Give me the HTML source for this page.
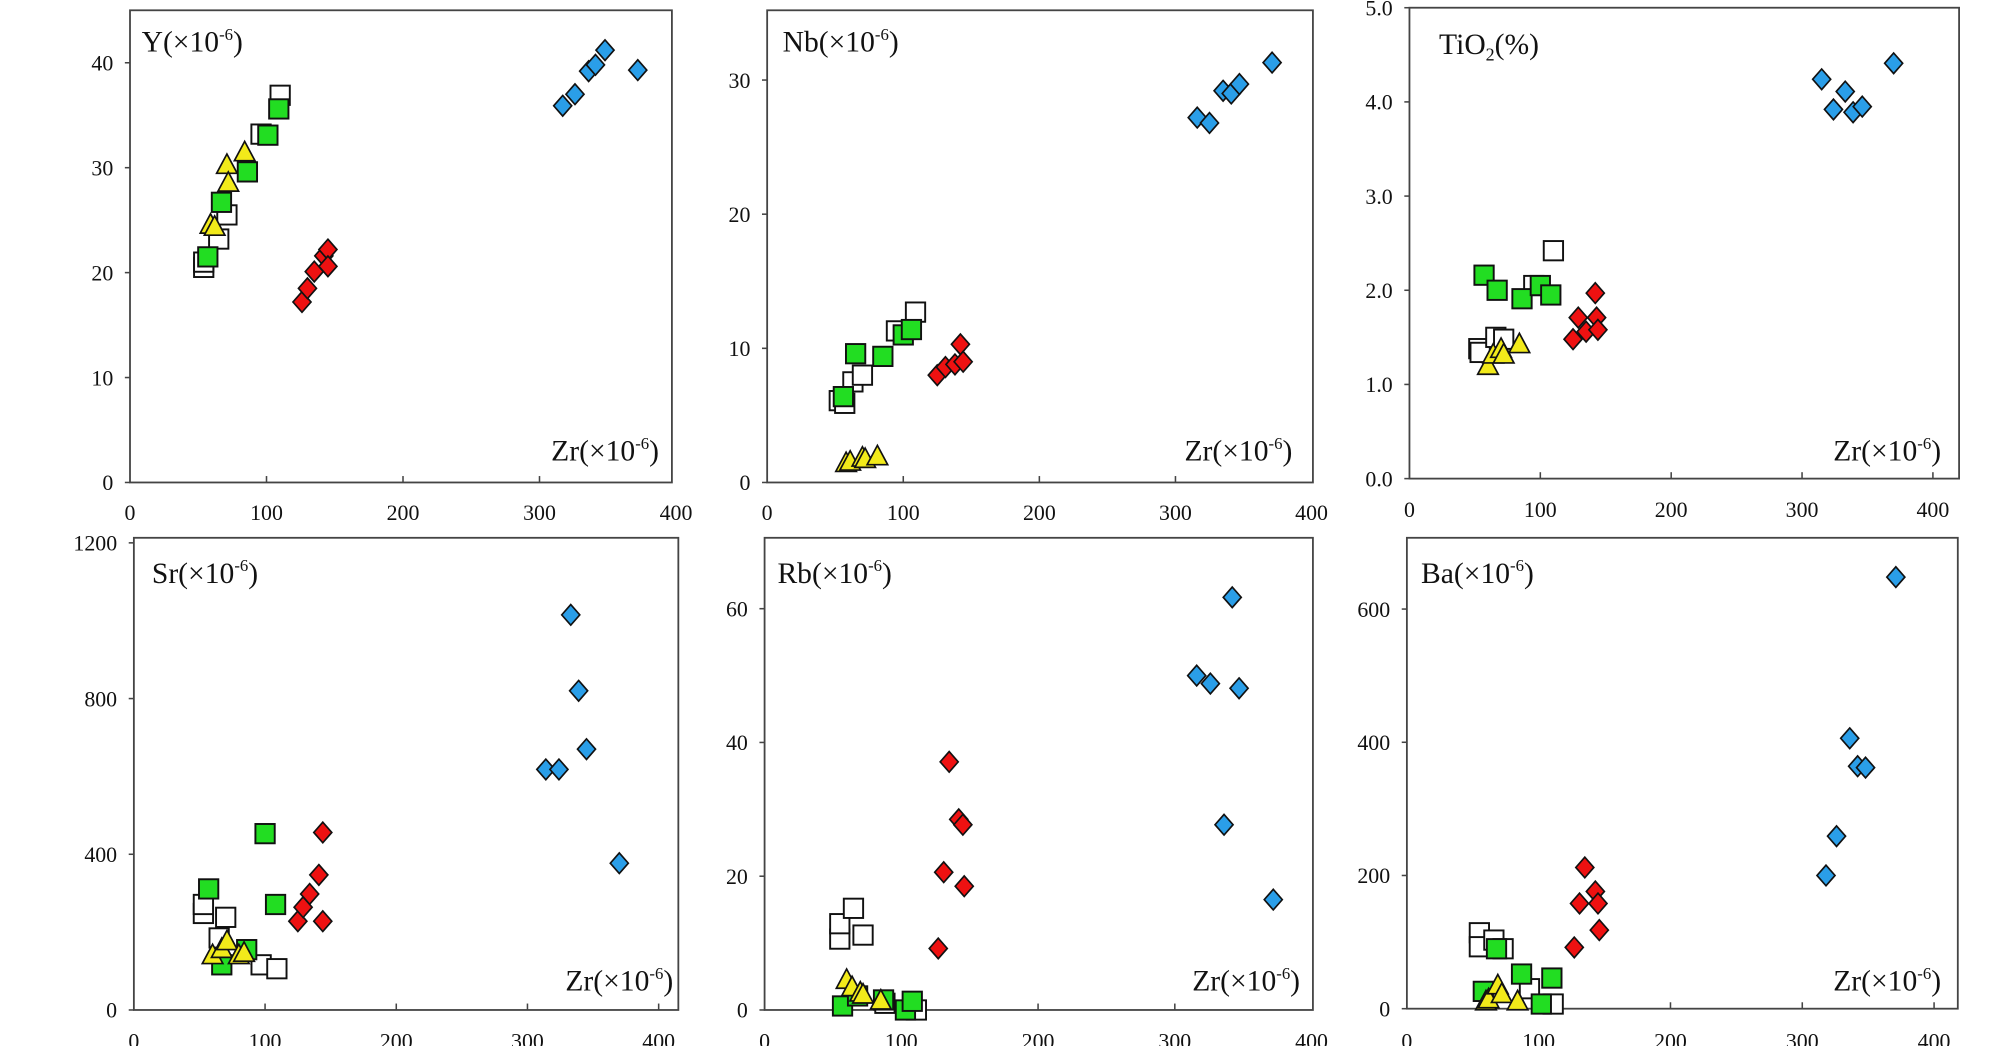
<!DOCTYPE html>
<html><head><meta charset="utf-8"><style>
html,body{margin:0;padding:0;background:#fff;}
svg{display:block;}
text{font-family:"Liberation Serif",serif;fill:#111;}
</style></head><body>
<svg id="fig" width="2008" height="1046" viewBox="0 0 1560 813" preserveAspectRatio="none" xmlns="http://www.w3.org/2000/svg"></svg>
<script>
// Data arrays: [Zr, value]
const yOpen=[[54,20.5],[54,21],[65,23.2],[71,25.5],[96,33.2],[110,36.9]];
const yGreen=[[57,21.5],[67,26.7],[86,29.6],[101,33.1],[109,35.6]];
const yYellow=[[59,24.5],[62,24.3],[71,30.2],[72,28.5],[84,31.4]];
const yRed=[[126,17.2],[130,18.5],[135,20.1],[142,21.6],[145,22.2],[145,20.6]];
const yBlue=[[317,35.9],[326,37],[336,39.2],[341,39.8],[348,41.2],[372,39.3]];

const nbOpen=[[53,6.1],[57,5.9],[63,7.5],[70,8.0],[95,11.3],[109,12.7]];
const nbGreen=[[56,6.4],[65,9.6],[85,9.4],[100,11.0],[106,11.4]];
const nbYellow=[[58,1.4],[61,1.5],[70,1.8],[72,1.7],[81,1.9]];
const nbRed=[[125,8.0],[131,8.6],[138,8.8],[142,10.3],[144,9.0]];
const nbBlue=[[316,27.2],[325,26.8],[335,29.2],[341,29.0],[347,29.7],[371,31.3]];

const tiOpen=[[53,1.38],[54,1.34],[66,1.5],[72,1.48],[95,2.05],[110,2.42]];
const tiGreen=[[57,2.16],[67,2.0],[86,1.91],[100,2.05],[108,1.95]];
const tiYellow=[[60,1.19],[64,1.31],[70,1.37],[72,1.31],[84,1.42]];
const tiRed=[[125,1.48],[129,1.71],[135,1.56],[142,1.97],[143,1.71],[144,1.58]];
const tiBlue=[[315,4.24],[324,3.92],[333,4.11],[339,3.89],[346,3.95],[370,4.41]];

const srOpen=[[53,248],[53,271],[65,185],[70,238],[97,116],[109,106]];
const srGreen=[[57,311],[67,116],[86,155],[100,453],[108,271]];
const srYellow=[[60,139],[67,155],[71,175],[80,139],[84,145]];
const srRed=[[125,228],[129,264],[134,298],[141,347],[144,456],[144,228]];
const srBlue=[[314,618],[324,618],[333,1015],[339,820],[345,670],[370,377]];

const rbOpen=[[55,10.6],[55,12.9],[65,15.2],[72,11.2],[88,1.0],[111,0]];
const rbGreen=[[57,0.6],[68,2.1],[87,1.5],[103,0],[108,1.3]];
const rbYellow=[[60,4.4],[64,3.3],[70,2.5],[72,2.2],[85,1.3]];
const rbRed=[[127,9.2],[131,20.6],[135,37.1],[142,28.5],[145,27.7],[146,18.5]];
const rbBlue=[[316,50],[326,48.8],[336,27.7],[342,61.7],[347,48.1],[372,16.5]];

const baOpen=[[55,114],[55,93],[66,103],[73,90],[93,30],[111,7]];
const baGreen=[[58,26],[68,90],[87,52],[102,7],[110,46]];
const baYellow=[[60,10],[62,13],[69,34],[72,21],[84,10]];
const baRed=[[127,92],[131,158],[135,212],[143,176],[145,158],[146,118]];
const baBlue=[[318,200],[326,259],[336,406],[342,364],[348,362],[371,648]];

const xTicks=[0,100,200,300,400];
const yTicksY=[0,10,20,30,40];
const yTicksNb=[0,10,20,30];
const yTicksTi=["0.0","1.0","2.0","3.0","4.0","5.0"];
const yTicksSr=[0,400,800,1200];
const yTicksRb=[0,20,40,60];
const yTicksBa=[0,200,400,600];

const NS="http://www.w3.org/2000/svg";
const svg=document.getElementById('fig');
function mk(tag,attrs,parent){const e=document.createElementNS(NS,tag);for(const k in attrs)e.setAttribute(k,attrs[k]);(parent||svg).appendChild(e);return e;}

const panels=[
 {id:'y',title:'Y',L:101,T:8,R:522,B:375,xmax:397,ymax:45,yt:yTicksY,xlb:404,data:[yOpen,yGreen,yYellow,yRed,yBlue],tx:110,ty:40,zx:512,zy:358},
 {id:'nb',title:'Nb',L:596,T:8,R:1020,B:375,xmax:401,ymax:35.2,yt:yTicksNb,xlb:404,data:[nbOpen,nbGreen,nbYellow,nbRed,nbBlue],tx:608,ty:40,zx:1004,zy:358},
 {id:'ti',title:'TiO2',L:1095,T:6,R:1522,B:372,xmax:420,ymax:5.0,yt:yTicksTi,xlb:402,data:[tiOpen,tiGreen,tiYellow,tiRed,tiBlue],tx:1118,ty:42,zx:1508,zy:358},
 {id:'sr',title:'Sr',L:104,T:418,R:527,B:785,xmax:415,ymax:1213,yt:yTicksSr,xlb:815,data:[srOpen,srGreen,srYellow,srRed,srBlue],tx:118,ty:453,zx:523,zy:770},
 {id:'rb',title:'Rb',L:594,T:418,R:1020,B:785,xmax:401,ymax:70.6,yt:yTicksRb,xlb:815,data:[rbOpen,rbGreen,rbYellow,rbRed,rbBlue],tx:604,ty:453,zx:1010,zy:770},
 {id:'ba',title:'Ba',L:1093,T:418,R:1521,B:784,xmax:418,ymax:707,yt:yTicksBa,xlb:815,data:[baOpen,baGreen,baYellow,baRed,baBlue],tx:1104,ty:453,zx:1508,zy:770}
];
const groupNames=['open-square','green-square','yellow-triangle','red-diamond','blue-diamond'];

function sup(t,pre){
  t.appendChild(document.createTextNode(pre+'(×10'));
  const s=mk('tspan',{'font-size':'13','dy':'-9'},t);s.textContent='-6';
  const c=mk('tspan',{'dy':'9'},t);c.textContent=')';
}

panels.forEach(p=>{
  const g=mk('g',{});
  
  
  const sx=v=>p.L+(v/p.xmax)*(p.R-p.L);
  const sy=v=>p.B-(parseFloat(v)/p.ymax)*(p.B-p.T);
  const box=mk('rect',{x:p.L,y:p.T,width:p.R-p.L,height:p.B-p.T,fill:'none',stroke:'#444','stroke-width':1.4},g);
  
  
  xTicks.forEach(v=>{
    const x=sx(v);
    if(v>0&&x<p.R-2) mk('line',{x1:x,y1:p.B,x2:x,y2:p.B-5,stroke:'#444','stroke-width':1.2},g);
    const t=mk('text',{x:x,y:p.xlb,'font-size':17,'text-anchor':'middle'},g);
    t.textContent=v;
    
    
  });
  p.yt.forEach(v=>{
    const y=sy(v);
    mk('line',{x1:p.L-4,y1:y,x2:p.L,y2:y,stroke:'#444','stroke-width':1.2},g);
    const t=mk('text',{x:p.L-13,y:y+6,'font-size':17,'text-anchor':'end'},g);
    t.textContent=v;
    
    
  });
  // title
  const tt=mk('text',{x:p.tx,y:p.ty,'font-size':23},g);
  
  
  if(p.id==='ti'){
    tt.appendChild(document.createTextNode('TiO'));
    const s=mk('tspan',{'font-size':14,'dy':5},tt);s.textContent='2';
    const r=mk('tspan',{'dy':-5},tt);r.textContent='(%)';
  } else sup(tt,p.title);
  const zt=mk('text',{x:p.zx,y:p.zy,'font-size':23,'text-anchor':'end'},g);
  
  
  sup(zt,'Zr');
  // markers
  p.data.forEach((arr,gi)=>{
    arr.forEach(d=>{
      const x=sx(d[0]),y=sy(d[1]);let m;
      if(gi===0||gi===1){
        m=mk('rect',{x:x-7.5,y:y-7.5,width:15,height:15,fill:gi===0?'#fff':'#22dd22',stroke:'#111','stroke-width':1.5},g);
      } else if(gi===2){
        m=mk('polygon',{points:`${x},${y-9} ${x+8},${y+6} ${x-8},${y+6}`,fill:'#f2ea1a',stroke:'#111','stroke-width':1.3},g);
      } else {
        m=mk('polygon',{points:`${x},${y-8} ${x+7},${y} ${x},${y+8} ${x-7},${y}`,fill:gi===3?'#ee1111':'#2a9ee8',stroke:'#111','stroke-width':1.3},g);
      }
      
      
    });
  });
});
</script>
</body></html>
